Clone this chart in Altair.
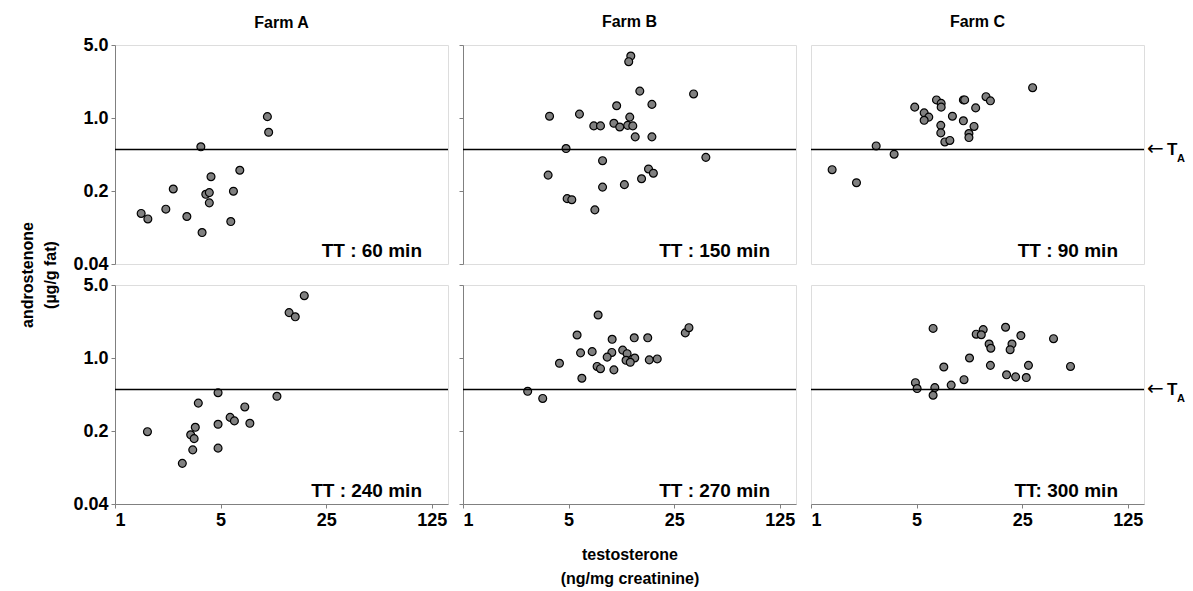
import altair as alt
import pandas as pd

FONT = "Liberation Sans"
W, H = 333, 219

farms = ["Farm A", "Farm B", "Farm C"]
tt_labels = [["TT : 60 min", "TT : 150 min", "TT : 90 min"],
             ["TT : 240 min", "TT : 270 min", "TT: 300 min"]]
x_ticks = [1, 5, 25, 125]
y_ticks = [0.04, 0.2, 1.0, 5.0]
threshold = [0.5]

# Farm A, TT 60 min
a60_x = [10.2, 10.4, 3.70, 6.70, 4.32, 2.43, 3.99, 4.21, 6.08, 4.21, 2.17, 1.49, 1.65, 2.99, 5.84, 3.77]
a60_y = [1.03, 0.73, 0.53, 0.316, 0.274, 0.209, 0.186, 0.193, 0.199, 0.154, 0.134, 0.122, 0.108, 0.114, 0.102, 0.080]
# Farm B, TT 150 min
b150_x = [12.9, 12.5, 14.8, 33.6, 17.8, 10.4, 3.74, 5.90, 12.7, 7.34, 8.13, 9.97, 10.9, 12.3, 13.3, 13.8, 17.8,
          4.81, 8.39, 40.5, 3.66, 16.9, 18.2, 15.2, 11.7, 8.39, 4.89, 5.25, 7.46]
b150_y = [3.92, 3.46, 1.81, 1.70, 1.35, 1.31, 1.04, 1.09, 1.02, 0.84, 0.84, 0.89, 0.82, 0.85, 0.84, 0.66, 0.66,
          0.51, 0.39, 0.42, 0.284, 0.325, 0.296, 0.262, 0.230, 0.218, 0.169, 0.165, 0.132]
# Farm C, TT 90 min
c90_x = [29.3, 14.4, 15.4, 6.77, 7.27, 7.27, 10.2, 10.4, 12.3, 4.86, 5.61, 6.02, 5.61, 8.63, 10.2, 7.23, 12.0,
         7.23, 11.1, 11.1, 7.69, 8.30, 2.70, 3.55, 1.38, 2.00]
c90_y = [1.95, 1.60, 1.46, 1.49, 1.38, 1.27, 1.49, 1.49, 1.25, 1.27, 1.12, 1.02, 0.95, 1.04, 0.94, 0.85, 0.83,
         0.72, 0.71, 0.65, 0.59, 0.61, 0.54, 0.45, 0.32, 0.24]
# Farm A, TT 240 min
a240_x = [17.9, 14.2, 15.6, 4.81, 11.8, 3.56, 7.23, 5.78, 6.17, 7.81, 4.81, 3.40, 1.64, 3.17, 3.34, 3.27, 4.81, 2.79]
a240_y = [3.95, 2.72, 2.48, 0.465, 0.43, 0.37, 0.34, 0.27, 0.25, 0.237, 0.232, 0.217, 0.197, 0.184, 0.169, 0.132,
          0.137, 0.098]
# Farm B, TT 270 min
b270_x = [7.84, 5.69, 9.71, 13.6, 16.7, 29.6, 31.3, 6.00, 7.16, 9.66, 11.4, 12.2, 9.00, 13.7, 12.0, 12.8, 17.1,
          19.3, 4.35, 7.72, 8.13, 9.97, 6.12, 2.68, 3.37]
b270_y = [2.58, 1.66, 1.51, 1.56, 1.56, 1.74, 1.95, 1.12, 1.15, 1.13, 1.19, 1.10, 1.02, 1.00, 0.95, 0.91, 0.96,
          0.98, 0.89, 0.83, 0.79, 0.77, 0.64, 0.48, 0.41]
# Farm C, TT 300 min
c300_x = [6.43, 19.4, 13.8, 12.4, 13.4, 24.5, 40.3, 15.1, 15.5, 21.4, 20.8, 11.2, 7.57, 15.4, 27.5, 52.2, 19.7,
          22.6, 26.6, 10.3, 8.47, 4.91, 5.04, 6.60, 6.43]
c300_y = [1.92, 1.97, 1.87, 1.69, 1.67, 1.64, 1.53, 1.36, 1.24, 1.36, 1.20, 1.00, 0.82, 0.85, 0.85, 0.83, 0.69,
          0.66, 0.65, 0.62, 0.55, 0.58, 0.51, 0.52, 0.44]

series = [[(a60_x, a60_y), (b150_x, b150_y), (c90_x, c90_y)],
          [(a240_x, a240_y), (b270_x, b270_y), (c300_x, c300_y)]]

xscale = alt.Scale(type="log", domain=[1, 160], nice=False)
yscale = alt.Scale(type="log", domain=[0.04, 5.0], nice=False)
GRAY = "#808080"


def panel(row, col):
    xs, ys = series[row][col]
    df = pd.DataFrame({"t": xs, "a": ys})

    if row == 0:
        xenc = alt.X("t:Q", scale=xscale, axis=None)
    else:
        xt = ["testosterone", "(ng/mg creatinine)"] if col == 1 else None
        xaxis_kw = dict(values=x_ticks, format="d", grid=False, ticks=True, tickSize=4,
                        tickColor=GRAY, domainColor=GRAY, labelFont=FONT, labelFontSize=18,
                        labelFontWeight="bold", labelColor="black", labelPadding=3,
                        titleFont=FONT, titleFontSize=16, titleFontWeight="bold",
                        titleColor="black", titlePadding=17, titleLineHeight=24)
        xenc = alt.X("t:Q", scale=xscale, title=xt, axis=alt.Axis(**xaxis_kw))

    yaxis_kw = dict(values=y_ticks, grid=False, ticks=True, tickSize=4, tickColor=GRAY,
                    domainColor=GRAY, labels=(col == 0),
                    labelExpr="datum.value < 0.1 ? '0.04' : format(datum.value, '.1f')",
                    labelFont=FONT, labelFontSize=18, labelFontWeight="bold",
                    labelColor="black", labelPadding=3)
    yt = None
    if row == 0 and col == 0:
        yt = ["androstenone", "(µg/g fat)"]
        yaxis_kw.update(dict(titleFont=FONT, titleFontSize=16, titleFontWeight="bold",
                             titleColor="black", titleX=-80, titleY=H + 10.5,
                             titleLineHeight=23, titleAngle=270, titleBaseline="bottom",
                             titleAlign="center"))
    yaxis = alt.Axis(**yaxis_kw)

    pts = alt.Chart(df).mark_circle(size=62, color=GRAY, opacity=1, stroke="black",
                                    strokeWidth=1.2).encode(
        x=xenc, y=alt.Y("a:Q", scale=yscale, title=yt, axis=yaxis))

    rule = alt.Chart(pd.DataFrame({"a": threshold})).mark_rule(
        color="black", strokeWidth=1.5).encode(
        y=alt.Y("a:Q", scale=yscale, title=yt, axis=yaxis))

    lab = alt.Chart(pd.DataFrame({"lab": [tt_labels[row][col]]})).mark_text(
        font=FONT, fontSize=19, fontWeight="bold", align="right", baseline="alphabetic",
        color="black").encode(text="lab:N", x=alt.value(W - 26), y=alt.value(H - 7))

    layers = [pts, rule, lab]

    if col == 2:
        tdf = pd.DataFrame({"a": threshold, "arrow": ["←"], "T": ["T"], "sub": ["A"]})
        arrow = alt.Chart(tdf).mark_text(font="DejaVu Sans", fontSize=20, align="left",
                                         baseline="middle", color="black").encode(
            text="arrow:N", x=alt.value(W + 3), y=alt.Y("a:Q", scale=yscale, axis=None))
        tch = alt.Chart(tdf).mark_text(font=FONT, fontSize=17, fontWeight="bold", align="left",
                                       baseline="middle", color="black", dy=1).encode(
            text="T:N", x=alt.value(W + 23), y=alt.Y("a:Q", scale=yscale, axis=None))
        sub = alt.Chart(tdf).mark_text(font=FONT, fontSize=11, fontWeight="bold", align="left",
                                       baseline="alphabetic", color="black", dy=13).encode(
            text="sub:N", x=alt.value(W + 33), y=alt.Y("a:Q", scale=yscale, axis=None))
        layers += [arrow, tch, sub]

    ch = alt.layer(*layers).properties(width=W, height=H)
    if row == 0:
        ch = ch.properties(title=alt.TitleParams(farms[col], font=FONT, fontSize=16,
                                                 fontWeight="bold", color="black",
                                                 offset=(5 if col == 0 else 15),
                                                 anchor="middle", frame="group"))
    return ch


panels = [panel(r, c) for r in range(2) for c in range(3)]

chart = alt.concat(*panels, columns=3, spacing={"row": 21, "column": 15},
                   bounds="flush").properties(
    padding={"left": 18, "top": 13, "right": 5, "bottom": 5}
).configure_view(stroke=GRAY, strokeWidth=1).configure(background="white")

chart.save("out.html", embed_options={"renderer": "svg", "actions": False})
